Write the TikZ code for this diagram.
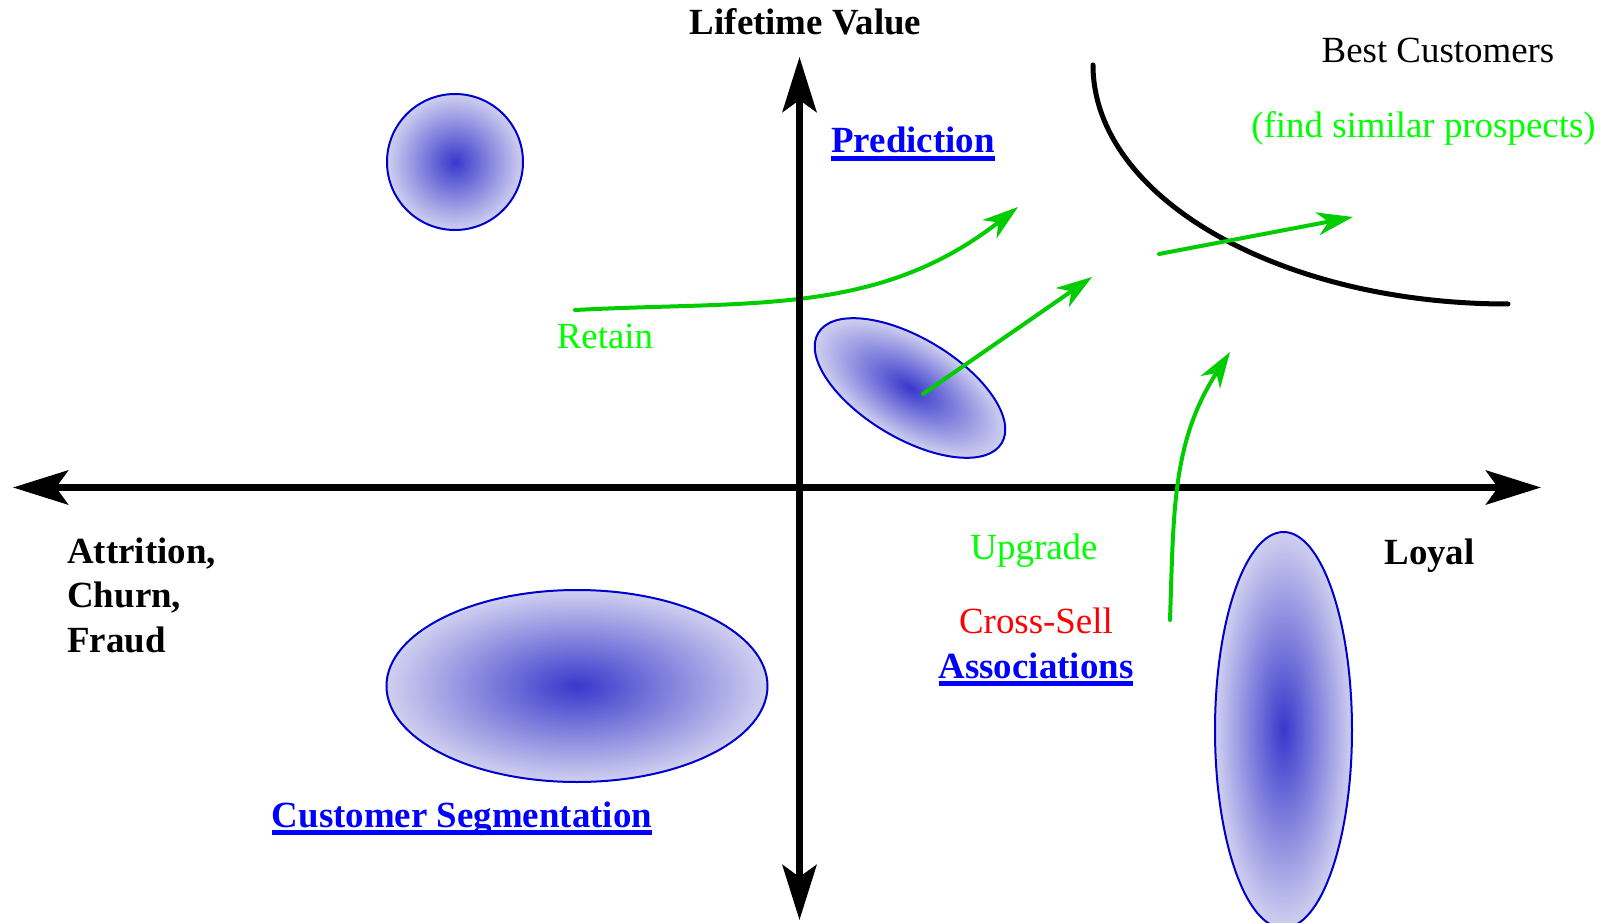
\documentclass[tikz,border=0pt]{standalone}
\usepackage{fontspec}
\setmainfont{Liberation Serif}
\usepackage{tikz}
\usetikzlibrary{arrows.meta, positioning}
\definecolor{linkBlue}{HTML}{0000FF}
\definecolor{rimBlue}{HTML}{0000CC}
\definecolor{coreBlue}{HTML}{3838CC}
\definecolor{haloBlue}{HTML}{D0D0F0}
\definecolor{txtGreen}{HTML}{00FF00}
\definecolor{arrGreen}{HTML}{00CC00}
\definecolor{txtRed}{HTML}{FF0000}
\newcommand{\linkword}[1]{\setbox0\hbox{#1}\rlap{\rule[-0.16cm]{\wd0}{0.1cm}}\box0}

\begin{document}
\begin{tikzpicture}[lbl/.style={font=\fontsize{21}{25.3}\selectfont, inner sep=0pt, anchor=base},hd/.style={lbl, font=\fontsize{21}{25.3}\selectfont\bfseries},axis/.style={line width=0.14cm, {Stealth[length=1.1cm, width=0.68cm, inset=0.24cm]}-{Stealth[length=1.1cm, width=0.68cm, inset=0.24cm]}},move/.style={arrGreen, line width=0.08cm, line cap=round, -{Stealth[length=0.72cm, width=0.46cm, inset=0.22cm]}},blob/.style={draw=rimBlue, line width=0.04cm, inner color=coreBlue, outer color=haloBlue}]
\useasboundingbox (-15.99,-8.69) rectangle (16.17,9.75);
% segments
\shadedraw[blob] (-6.89,6.51) circle (1.36);
\shadedraw[blob] (-4.45,-3.97) ellipse (3.81 and 1.92);
\shadedraw[blob] (9.68,-4.85) ellipse (1.37 and 3.96);
\begin{scope}[transform canvas={shift={(2.21,1.99)}, rotate=-31}]
\shadedraw[blob] (0,0) ellipse (2.14 and 1.0);
\end{scope}
\coordinate (west) at (-15.73,0); \coordinate (east) at (14.83,0);
\coordinate (south) at (0,-8.65); \coordinate (north) at (0,8.61);
\coordinate (retainFrom) at (-4.49,3.55); \coordinate (retainTo) at (4.37,5.61);
\coordinate (predFrom) at (2.47,1.87); \coordinate (predTo) at (5.85,4.21);
\coordinate (bestFrom) at (7.19,4.67); \coordinate (bestTo) at (11.07,5.41);
\coordinate (upFrom) at (7.41,-2.65); \coordinate (upTo) at (8.61,2.71);
\coordinate (bestTop) at (5.87,8.45);
\draw[move] (retainFrom) to[out=3, in=218] (retainTo);
% quadrant axes
\draw[axis] (west) -- (east);
\draw[axis] (south) -- (north);
\draw[line width=0.1cm, line cap=round] (bestTop) arc[start angle=180, end angle=270, x radius=8.3cm, y radius=4.78cm];
\draw[move] (predFrom) -- (predTo);
\draw[move] (bestFrom) -- (bestTo);
\draw[move] (upFrom) to[out=88, in=237] (upTo);
% labels
\node[hd] (ltv) at (0.12,9.05) {Lifetime Value};
\node[hd, text=linkBlue] (pred) at (2.27,6.69) {\linkword{Prediction}};
\node[lbl] (best) at (12.77,8.49) {Best Customers};
\node[lbl, text=txtGreen] (prosp) at (12.48,6.99) {(find similar prospects)};
\node[lbl, text=txtGreen] (retain) at (-3.89,2.79) {Retain};
\node[lbl, text=txtGreen] (upg) at (4.69,-1.43) {Upgrade};
\node[lbl, text=txtRed] (xsell) at (4.73,-2.91) {Cross-Sell};
\node[hd, text=linkBlue] (assoc) at (4.73,-3.81) {\linkword{Associations}};
\node[hd] (loyal) at (12.6,-1.53) {Loyal};
\node[hd, align=left, anchor=base west] (churn) at (-14.65,-3.29) {Attrition,\\Churn,\\Fraud};
\node[hd, text=linkBlue] (seg) at (-6.75,-6.79) {\linkword{Customer Segmentation}};
\end{tikzpicture}
\end{document}
